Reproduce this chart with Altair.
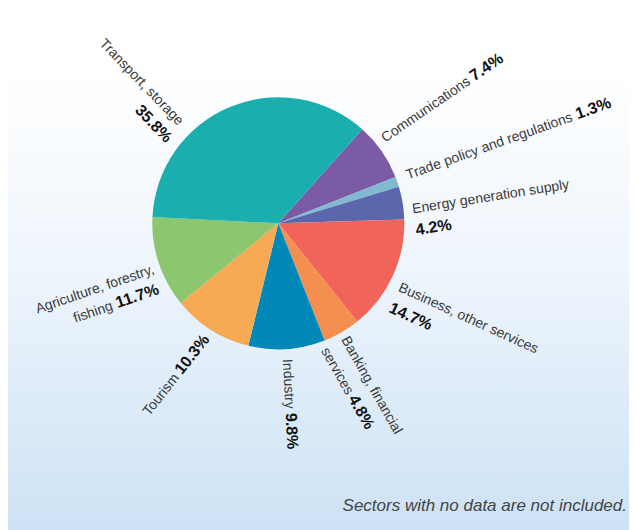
import math
import altair as alt
import pandas as pd

# ---- data -------------------------------------------------------------
sectors = ["Communications", "Trade policy and regulations", "Energy generation supply",
           "Business, other services", "Banking, financial services", "Industry",
           "Tourism", "Agriculture, forestry, fishing", "Transport, storage"]
shares = [7.4, 1.3, 4.2, 14.7, 4.8, 9.8, 10.3, 11.7, 35.8]
colors = ["#7b5aa6", "#80b9d0", "#5b66ad", "#f0645a", "#f58f50",
          "#0089b8", "#f7a954", "#8cc66f", "#1aaeae"]

# label pieces (text, bold?, align, anchor angle deg, anchor radius, rotation, dx, dy)
label_text = ["Communications", "7.4%",
              "Trade policy and regulations", "1.3%",
              "Energy generation supply", "4.2%",
              "Business, other services", "14.7%",
              "Banking, financial", "services", "4.8%",
              "Industry", "9.8%",
              "10.3%", "Tourism",
              "Agriculture, forestry,", "11.7%", "fishing",
              "Transport, storage", "35.8%"]
label_bold = [0, 1, 0, 1, 0, 1, 0, 1, 0, 0, 1, 0, 1, 1, 0, 0, 1, 0, 0, 1]
label_align = ["left", "left", "left", "left", "left", "left", "left", "left",
               "left", "left", "left", "left", "left",
               "right", "right", "right", "right", "right", "right", "right"]
label_theta = [53, 53, 71.3, 71.3, 85.8, 85.8, 119.5, 119.5,
               151.7, 151.7, 151.7, 178.1, 178.1,
               210.3, 210.3, 248, 248, 248, 314.1, 314.1]
label_radius = [134, 134, 137, 137, 135, 135, 137, 137,
                132, 132, 132, 136, 136,
                135, 135, 133, 133, 133, 139.7, 139.7]
label_rot = [-34.5, -34.5, -19.5, -19.5, -9, -9, 24.5, 24.5,
             60.5, 60.5, 60.5, 87, 87,
             -51.5, -51.5, -19, -19, -19, 46, 46]
label_dx = [0, 108, 0, 180, 0, 0, 0, 0,
            0, 0, 55, 0, 54,
            0, -49, 0, -2, -51, 0, 4]
label_dy = [0, 0, 0, 0, 0, 22, 0, 23,
            0, 23, 23, 0, 0,
            0, 0, 0, 21, 21, 0, 21]

footnote = "Sectors with no data are not included."

# ---- layout -----------------------------------------------------------
W, H = 621, 522
CX, CY = 270.3, 215.3
R = 126
START = math.radians(41.8)
FONT = "Liberation Sans, Arial, sans-serif"

pie_df = pd.DataFrame({"sector": sectors, "share": shares, "idx": list(range(len(sectors)))})
lab_df = pd.DataFrame({
    "text": label_text, "bold": label_bold, "align": label_align,
    "pos": label_theta, "r": label_radius, "rot": label_rot,
    "dx": label_dx, "dy": label_dy,
})

gradient = alt.Gradient(
    gradient="linear", x1=0, x2=0, y1=0, y2=1,
    stops=[
        alt.GradientStop(color="#ffffff", offset=0),
        alt.GradientStop(color="#ffffff", offset=0.12),
        alt.GradientStop(color="#eef5fc", offset=0.5),
        alt.GradientStop(color="#cde2f5", offset=1),
    ],
)

bg = alt.Chart(pd.DataFrame({"k": [0]})).mark_rect(fill=gradient).encode(
    x=alt.value(0), x2=alt.value(W), y=alt.value(0), y2=alt.value(H)
)

pie = alt.Chart(pie_df).mark_arc(outerRadius=R).encode(
    theta=alt.Theta("share:Q", stack=True,
                    scale=alt.Scale(range=[START, START + 2 * math.pi])),
    color=alt.Color("sector:N", scale=alt.Scale(domain=sectors, range=colors), legend=None),
    order=alt.Order("idx:Q"),
    x=alt.value(CX), y=alt.value(CY),
)

layers = [bg, pie]
for i in range(len(lab_df)):
    row = lab_df.iloc[[i]]
    bold = bool(row["bold"].iloc[0])
    t = alt.Chart(row).mark_text(
        align=row["align"].iloc[0],
        baseline="alphabetic",
        dx=float(row["dx"].iloc[0]), dy=float(row["dy"].iloc[0]),
        font=FONT,
        fontSize=16 if bold else 14,
        fontWeight="bold" if bold else "normal",
        color="#111111" if bold else "#3a3a3a",
    ).transform_calculate(
        trad="datum.pos * PI / 180",
        rotn="(datum.rot + 360) % 360",
    ).encode(
        theta=alt.Theta("trad:Q", scale=None, stack=False),
        radius=alt.Radius("r:Q", scale=None),
        angle=alt.Angle("rotn:Q", scale=None),
        text="text:N",
        x=alt.value(CX), y=alt.value(CY),
    )
    layers.append(t)

note = alt.Chart(pd.DataFrame({"text": [footnote]})).mark_text(
    align="right", baseline="alphabetic", font="Liberation Sans, Arial, sans-serif",
    fontStyle="italic", fontSize=17, color="#444444",
).encode(text="text:N", x=alt.value(619), y=alt.value(503))
layers.append(note)

chart = alt.layer(*layers).resolve_scale(theta="independent").properties(
    width=W, height=H, padding=0,
    autosize=alt.AutoSizeParams(type="none"),
).configure_view(strokeWidth=0)

chart.save("out.html", embed_options={"renderer": "svg", "actions": False})
